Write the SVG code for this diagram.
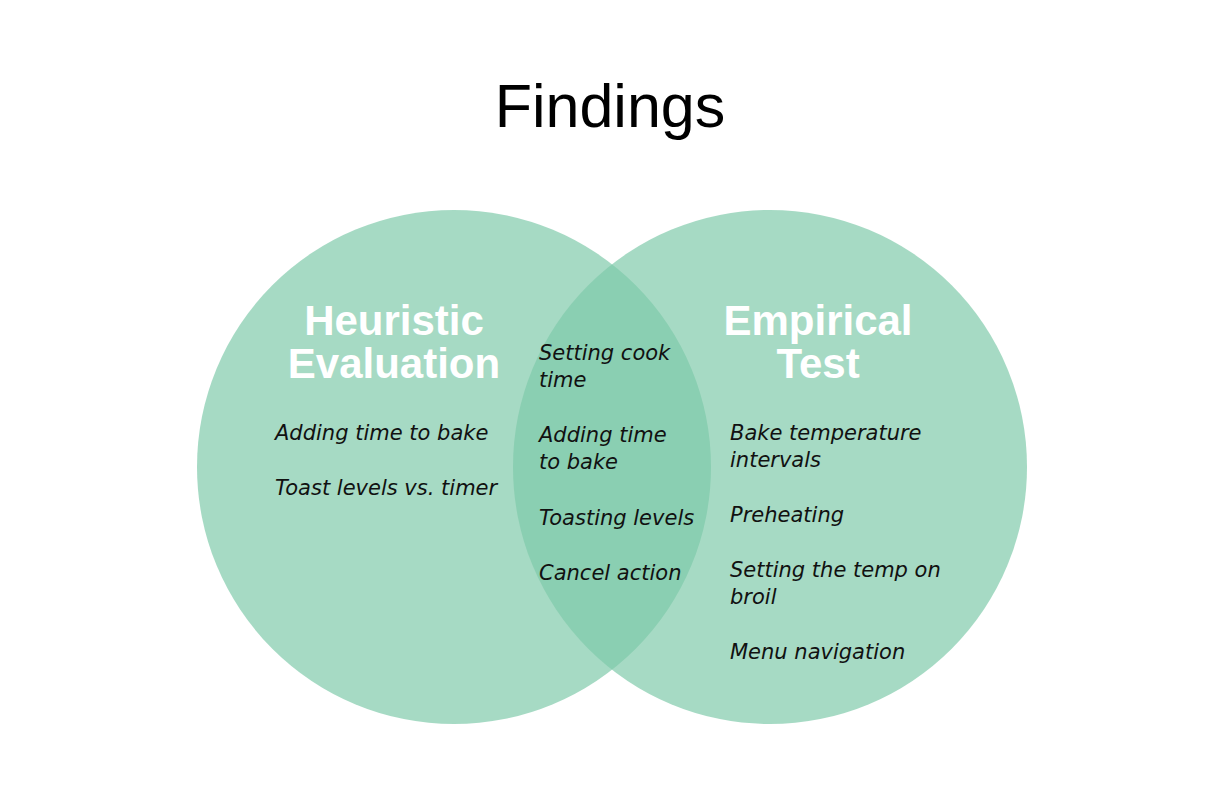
<svg xmlns="http://www.w3.org/2000/svg" width="1224" height="792" viewBox="0 0 1224 792">
<style>
.c{fill:#7ec9a9;fill-opacity:0.69}
.h{font-family:"Liberation Sans",Arial,sans-serif;font-weight:bold;font-size:42px;fill:#ffffff;text-anchor:middle}
.t{font-family:"DejaVu Sans",sans-serif;font-style:italic;font-size:21px;fill:#111111}
.title{font-family:"Liberation Sans",Arial,sans-serif;font-size:61px;fill:#000000;text-anchor:middle}
</style>
<rect width="1224" height="792" fill="#ffffff"/>
<text class="title" x="610" y="127">Findings</text>
<g id="heuristic">
<circle class="c" cx="454" cy="467" r="257"/>
<text class="h" x="394" y="335">Heuristic</text>
<text class="h" x="394" y="378">Evaluation</text>
<text class="t" x="275" y="440">Adding time to bake</text>
<text class="t" x="275" y="495">Toast levels vs. timer</text>
</g>
<g id="empirical">
<circle class="c" cx="770" cy="467" r="257"/>
<text class="h" x="818" y="335">Empirical</text>
<text class="h" x="818" y="378">Test</text>
<text class="t" x="730" y="440">Bake temperature</text>
<text class="t" x="730" y="467">intervals</text>
<text class="t" x="730" y="522">Preheating</text>
<text class="t" x="730" y="577">Setting the temp on</text>
<text class="t" x="730" y="604">broil</text>
<text class="t" x="730" y="659">Menu navigation</text>
</g>
<g id="overlap">
<text class="t" x="539" y="360">Setting cook</text>
<text class="t" x="539" y="387">time</text>
<text class="t" x="539" y="442">Adding time</text>
<text class="t" x="539" y="469">to bake</text>
<text class="t" x="539" y="525">Toasting levels</text>
<text class="t" x="539" y="580">Cancel action</text>
</g>
<g id="connectors"></g>
</svg>
